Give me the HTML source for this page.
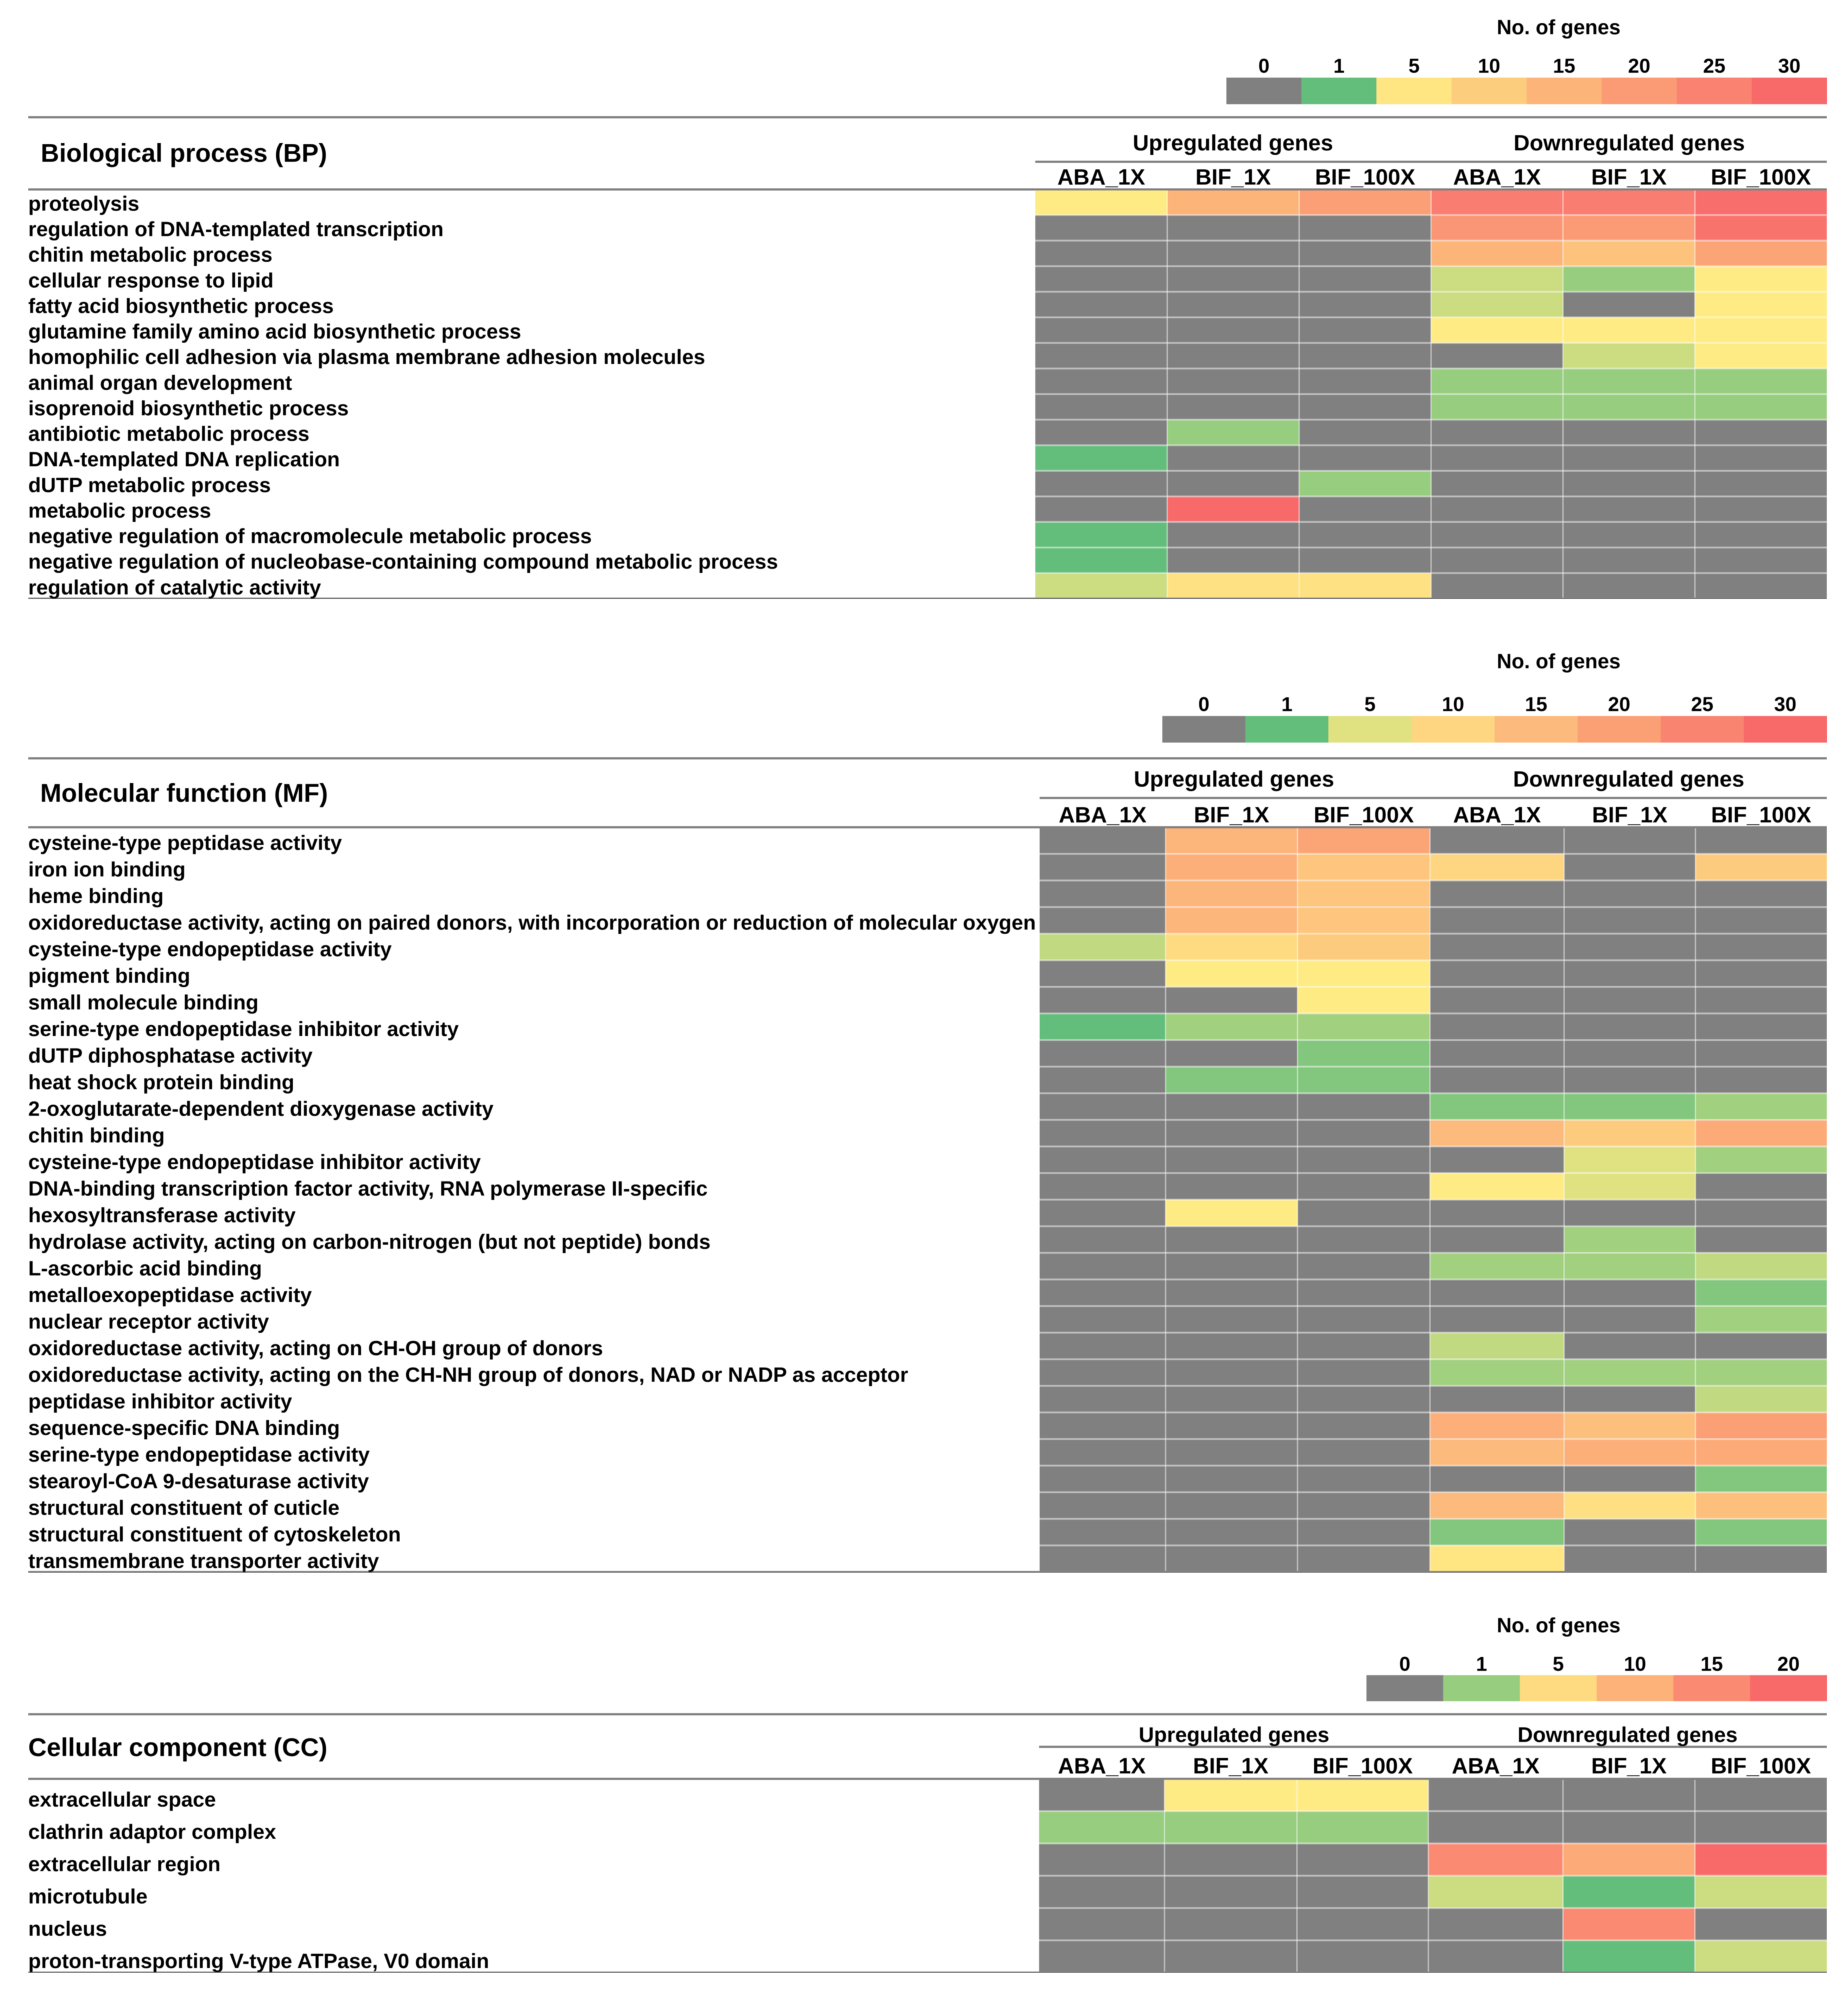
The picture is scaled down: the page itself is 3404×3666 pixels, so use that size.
<!DOCTYPE html>
<html lang="en">
<head>
<meta charset="utf-8">
<title>Gene ontology heatmaps</title>
<style>
html,body{margin:0;padding:0;background:#fff;width:3404px;height:3666px;overflow:hidden}
svg{display:block;position:absolute;left:0;top:0}
text{font-family:"Liberation Sans",Arial,sans-serif;font-weight:bold;fill:#000}
</style>
</head>
<body>
<svg id="chart" xmlns="http://www.w3.org/2000/svg" width="3404" height="3666" viewBox="0 0 3404 3666"></svg>
<script>
// ---------- shared categories ----------
const conditions = ['ABA_1X', 'BIF_1X', 'BIF_100X', 'ABA_1X', 'BIF_1X', 'BIF_100X'];
const groupLabels = ['Upregulated genes', 'Downregulated genes'];

// ---------- Biological process ----------
const bpTerms = [
  'proteolysis',
  'regulation of DNA-templated transcription',
  'chitin metabolic process',
  'cellular response to lipid',
  'fatty acid biosynthetic process',
  'glutamine family amino acid biosynthetic process',
  'homophilic cell adhesion via plasma membrane adhesion molecules',
  'animal organ development',
  'isoprenoid biosynthetic process',
  'antibiotic metabolic process',
  'DNA-templated DNA replication',
  'dUTP metabolic process',
  'metabolic process',
  'negative regulation of macromolecule metabolic process',
  'negative regulation of nucleobase-containing compound metabolic process',
  'regulation of catalytic activity'
];
const bpValues = [
  [4, 15, 19, 26, 26, 29],
  [0, 0, 0, 21, 20, 28],
  [0, 0, 0, 15, 12, 18],
  [0, 0, 0, 3, 2, 4],
  [0, 0, 0, 3, 0, 4],
  [0, 0, 0, 4, 4, 4],
  [0, 0, 0, 0, 3, 4],
  [0, 0, 0, 2, 2, 2],
  [0, 0, 0, 2, 2, 2],
  [0, 2, 0, 0, 0, 0],
  [1, 0, 0, 0, 0, 0],
  [0, 0, 2, 0, 0, 0],
  [0, 30, 0, 0, 0, 0],
  [1, 0, 0, 0, 0, 0],
  [1, 0, 0, 0, 0, 0],
  [3, 6, 6, 0, 0, 0]
];
const bpLegendLabels = ['0', '1', '5', '10', '15', '20', '25', '30'];
const bpLegendValues = [0, 1, 5, 10, 15, 20, 25, 30];

// ---------- Molecular function ----------
const mfTerms = [
  'cysteine-type peptidase activity',
  'iron ion binding',
  'heme binding',
  'oxidoreductase activity, acting on paired donors, with incorporation or reduction of molecular oxygen',
  'cysteine-type endopeptidase activity',
  'pigment binding',
  'small molecule binding',
  'serine-type endopeptidase inhibitor activity',
  'dUTP diphosphatase activity',
  'heat shock protein binding',
  '2-oxoglutarate-dependent dioxygenase activity',
  'chitin binding',
  'cysteine-type endopeptidase inhibitor activity',
  'DNA-binding transcription factor activity, RNA polymerase II-specific',
  'hexosyltransferase activity',
  'hydrolase activity, acting on carbon-nitrogen (but not peptide) bonds',
  'L-ascorbic acid binding',
  'metalloexopeptidase activity',
  'nuclear receptor activity',
  'oxidoreductase activity, acting on CH-OH group of donors',
  'oxidoreductase activity, acting on the CH-NH group of donors, NAD or NADP as acceptor',
  'peptidase inhibitor activity',
  'sequence-specific DNA binding',
  'serine-type endopeptidase activity',
  'stearoyl-CoA 9-desaturase activity',
  'structural constituent of cuticle',
  'structural constituent of cytoskeleton',
  'transmembrane transporter activity'
];
const mfValues = [
  [0, 16, 19, 0, 0, 0],
  [0, 17, 13, 10, 0, 12],
  [0, 16, 13, 0, 0, 0],
  [0, 16, 13, 0, 0, 0],
  [4, 9, 12, 0, 0, 0],
  [0, 6, 6, 0, 0, 0],
  [0, 0, 6, 0, 0, 0],
  [1, 3, 3, 0, 0, 0],
  [0, 0, 2, 0, 0, 0],
  [0, 2, 2, 0, 0, 0],
  [0, 0, 0, 2, 2, 3],
  [0, 0, 0, 15, 12, 18],
  [0, 0, 0, 0, 5, 3],
  [0, 0, 0, 6, 5, 0],
  [0, 6, 0, 0, 0, 0],
  [0, 0, 0, 0, 3, 0],
  [0, 0, 0, 3, 3, 4],
  [0, 0, 0, 0, 0, 2],
  [0, 0, 0, 0, 0, 3],
  [0, 0, 0, 4, 0, 0],
  [0, 0, 0, 3, 3, 3],
  [0, 0, 0, 0, 0, 4],
  [0, 0, 0, 17, 14, 20],
  [0, 0, 0, 15, 17, 18],
  [0, 0, 0, 0, 0, 2],
  [0, 0, 0, 15, 8, 14],
  [0, 0, 0, 2, 0, 2],
  [0, 0, 0, 7, 0, 0]
];
const mfLegendLabels = ['0', '1', '5', '10', '15', '20', '25', '30'];
const mfLegendValues = [0, 1, 5, 10, 15, 20, 25, 30];

// ---------- Cellular component ----------
const ccTerms = [
  'extracellular space',
  'clathrin adaptor complex',
  'extracellular region',
  'microtubule',
  'nucleus',
  'proton-transporting V-type ATPase, V0 domain'
];
const ccValues = [
  [0, 4, 4, 0, 0, 0],
  [2, 2, 2, 0, 0, 0],
  [0, 0, 0, 16, 12, 20],
  [0, 0, 0, 3, 1, 3],
  [0, 0, 0, 0, 16, 0],
  [0, 0, 0, 0, 1, 3]
];
const ccLegendLabels = ['0', '1', '5', '10', '15', '20'];
const ccLegendValues = [0, 2, 6, 11, 16, 20];

// ---------- layout (geometry only) ----------
const LEFT = 52, RIGHT = 3365;
const bpLayout = {
  title: 'Biological process (BP)', titleX: 75, titleY: 298, titleSize: 47,
  noGenesY: 63, tickY: 134, legendX: 2259, legendTop: 143, legendBottom: 192,
  rule1: 216, groupY: 277, groupSize: 41, groupLine: 298, subY: 340, top: 349, rowH: 47.12,
  edges: [1907, 2150, 2393, 2636, 2879, 3122, 3365],
  labelDy: 39, refTerm: 6, refWidth: 1247,
  groupCenters: [2271, 3001]
};
const mfLayout = {
  title: 'Molecular function (MF)', titleX: 74, titleY: 1477, titleSize: 47,
  noGenesY: 1231, tickY: 1310, legendX: 2141, legendTop: 1319, legendBottom: 1368,
  rule1: 1397, groupY: 1449, groupSize: 41, groupLine: 1470, subY: 1515, top: 1524, rowH: 49,
  edges: [1915, 2147, 2390, 2634, 2881, 3123, 3365],
  labelDy: 41.5, refTerm: 3, refWidth: 1856,
  groupCenters: [2273, 3000]
};
const ccLayout = {
  title: 'Cellular component (CC)', titleX: 52, titleY: 3235, titleSize: 47,
  noGenesY: 3007, tickY: 3078, legendX: 2517, legendTop: 3086, legendBottom: 3134,
  rule1: 3158, groupY: 3209, groupSize: 39, groupLine: 3218, subY: 3267, top: 3277, rowH: 59.5,
  edges: [1914, 2145, 2389, 2631, 2879, 3122, 3365],
  labelDy: 51, refTerm: 5, refWidth: 849,
  groupCenters: [2273, 2998]
};

// ---------- colour scales: 0 grey, then green -> yellow -> red ----------
const GREY = [128, 128, 128], GREEN = [99, 190, 123], YELLOW = [255, 235, 132], RED = [248, 105, 107];
function mix(a, b, t) {
  const c = a.map(function (v, i) { return Math.round(v + (b[i] - v) * t); });
  return 'rgb(' + c.join(',') + ')';
}
function makeColorScale(mid, max) {
  return function (v) {
    if (v <= 0) return mix(GREY, GREY, 0);
    if (v <= mid) return mix(GREEN, YELLOW, (v - 1) / (mid - 1));
    return mix(YELLOW, RED, Math.min(1, (v - mid) / (max - mid)));
  };
}

const NS = 'http://www.w3.org/2000/svg';
const root = document.getElementById('chart');
function shape(parent, tag, attrs) {
  const el = document.createElementNS(NS, tag);
  Object.keys(attrs).forEach(function (k) { el.setAttribute(k, attrs[k]); });
  parent.appendChild(el);
  return el;
}
function label(parent, str, x, y, size, anchor) {
  const el = shape(parent, 'text', { x: x, y: y, 'font-size': size, 'text-anchor': anchor });
  el.textContent = str;
  return el;
}

function drawPanel(key, layout, terms, values, legendLabels, legendValues, color) {
  const g = shape(root, 'g', { filter: 'url(#soft)' });
  
  

  const xEdge = function (c) { return layout.edges[c]; };
  const yRow = function (r) { return layout.top + r * layout.rowH; };
  const bottom = yRow(terms.length);

  // legend
  const noGenes = label(g, 'No. of genes', 2871, layout.noGenesY, 38, 'middle');
  
  
  const segW = (RIGHT - layout.legendX) / legendLabels.length;
  legendLabels.forEach(function (t, i) {
    const sw = shape(g, 'rect', { x: layout.legendX + i * segW, y: layout.legendTop, width: segW + 0.5, height: layout.legendBottom - layout.legendTop, fill: color(legendValues[i]) });
    
    
    const tick = label(g, t, layout.legendX + (i + 0.5) * segW, layout.tickY, 37, 'middle');
    
    
  });

  // cells
  values.forEach(function (row, r) {
    row.forEach(function (v, c) {
      const cell = shape(g, 'rect', { x: xEdge(c), y: yRow(r), width: xEdge(c + 1) - xEdge(c), height: layout.rowH + 0.5, fill: color(v) });
      
      
    });
  });

  // separators
  for (let r = 1; r < terms.length; r++) {
    const sep = shape(g, 'line', { x1: xEdge(0), x2: RIGHT, y1: yRow(r), y2: yRow(r), stroke: '#fff', 'stroke-opacity': 0.5, 'stroke-width': 3 });
    
    
  }
  for (let c = 1; c < 6; c++) {
    const sep = shape(g, 'line', { x1: xEdge(c), x2: xEdge(c), y1: layout.top, y2: bottom, stroke: '#fff', 'stroke-opacity': 0.55, 'stroke-width': 2 });
    
    
  }

  // rules
  [[LEFT, layout.rule1], [xEdge(0), layout.groupLine], [LEFT, layout.top], [LEFT, bottom]].forEach(function (p, i) {
    const rule = shape(g, 'line', { x1: p[0], x2: RIGHT, y1: p[1], y2: p[1], stroke: '#7f7f7f', 'stroke-width': 4 });
    
    
  });

  // headers
  const title = label(g, layout.title, layout.titleX, layout.titleY, layout.titleSize, 'start');
  
  
  groupLabels.forEach(function (t, i) {
    const gl = label(g, t, layout.groupCenters[i], layout.groupY, layout.groupSize, 'middle');
    
    
  });
  conditions.forEach(function (t, c) {
    const sub = label(g, t, (xEdge(c) + xEdge(c + 1)) / 2, layout.subY, 41, 'middle');
    
    
  });

  // row labels, all scaled by the same fit factor
  const termEls = terms.map(function (t, r) {
    const el = label(g, t, LEFT, yRow(r) + layout.labelDy, 38, 'start');
    
    
    return el;
  });
  const k = layout.refWidth / termEls[layout.refTerm].getComputedTextLength();
  termEls.forEach(function (el) {
    el.setAttribute('textLength', (el.getComputedTextLength() * k).toFixed(1));
    el.setAttribute('lengthAdjust', 'spacingAndGlyphs');
  });
}

const defs = shape(root, 'defs', {});
const soft = shape(defs, 'filter', { id: 'soft', x: 0, y: 0, width: 1, height: 1, filterUnits: 'objectBoundingBox' });
shape(soft, 'feGaussianBlur', { stdDeviation: 0.8 });

drawPanel('bp', bpLayout, bpTerms, bpValues, bpLegendLabels, bpLegendValues, makeColorScale(4, 30));
drawPanel('mf', mfLayout, mfTerms, mfValues, mfLegendLabels, mfLegendValues, makeColorScale(6, 30));
drawPanel('cc', ccLayout, ccTerms, ccValues, ccLegendLabels, ccLegendValues, makeColorScale(4, 20));
</script>
</body>
</html>
